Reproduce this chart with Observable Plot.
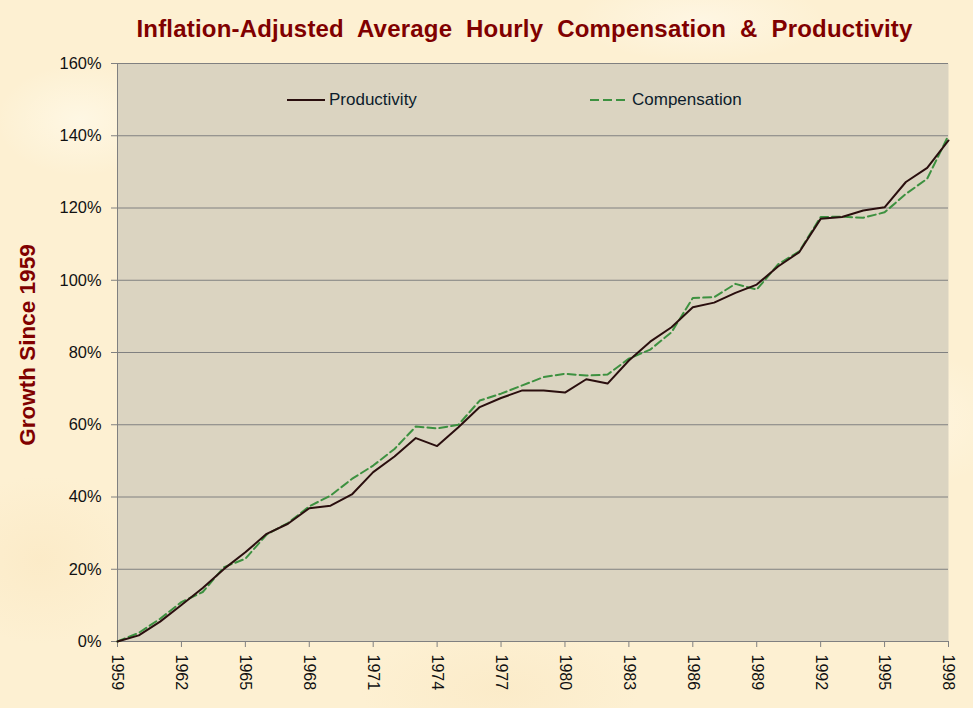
<!DOCTYPE html>
<html>
<head>
<meta charset="utf-8">
<script src="https://cdn.jsdelivr.net/npm/d3@7"></script>
<script src="https://cdn.jsdelivr.net/npm/@observablehq/plot@0.6"></script>
<style>
  html, body { margin: 0; padding: 0; }
  body {
    width: 973px; height: 708px; overflow: hidden;
    background-color: #fdf0d2;
    background-image:
      radial-gradient(ellipse 120px 80px at 80px 120px, rgba(255,250,235,0.7), rgba(255,250,235,0) 70%),
      radial-gradient(ellipse 160px 100px at 900px 420px, rgba(255,248,230,0.7), rgba(255,248,230,0) 70%),
      radial-gradient(ellipse 200px 90px at 500px 690px, rgba(250,232,195,0.6), rgba(250,232,195,0) 70%),
      radial-gradient(ellipse 140px 120px at 40px 560px, rgba(250,230,190,0.5), rgba(250,230,190,0) 70%),
      radial-gradient(ellipse 180px 60px at 700px 20px, rgba(255,250,238,0.6), rgba(255,250,238,0) 70%);
    font-family: "Liberation Sans", Arial, sans-serif;
  }
  #wrap { position: relative; width: 973px; height: 708px; }
  #title {
    position: absolute; left: 0; top: 15px; width: 1049px; text-align: center;
    font: bold 24px "Liberation Sans", Arial, sans-serif; color: #800000;
    letter-spacing: 0.2px; word-spacing: 7px; white-space: nowrap; line-height: 28px;
  }
  #ylabel {
    position: absolute; left: 28px; top: 345px;
    transform: translate(-50%, -50%) rotate(-90deg);
    font: bold 22.5px "Liberation Sans", Arial, sans-serif; color: #800000; white-space: nowrap;
  }
  .leg { position: absolute; top: 90px; height: 20px; display: flex; align-items: center;
    font: 17px "Liberation Sans", Arial, sans-serif; color: #0c1c2c; white-space: nowrap; }
  .leg svg { margin-right: 4px; }
  #chart svg { display: block; }
</style>
</head>
<body>
<div id="wrap">
  <div id="chart"></div>
  <div id="title">Inflation-Adjusted Average Hourly Compensation &amp; Productivity</div>
  <div id="ylabel">Growth Since 1959</div>
  <div class="leg" style="left:287px"><svg width="38" height="10"><line x1="0" y1="5" x2="38" y2="5" stroke="#2a0e0e" stroke-width="2"/></svg><span>Productivity</span></div>
  <div class="leg" style="left:590px"><svg width="38" height="10"><line x1="0" y1="5" x2="38" y2="5" stroke="#3d9140" stroke-width="2" stroke-dasharray="9,4"/></svg><span>Compensation</span></div>
</div>
<script>
const years = [1959,1960,1961,1962,1963,1964,1965,1966,1967,1968,1969,1970,1971,1972,1973,1974,1975,1976,1977,1978,1979,1980,1981,1982,1983,1984,1985,1986,1987,1988,1989,1990,1991,1992,1993,1994,1995,1996,1997,1998];
const productivity = [0,1.7,5.5,10.1,14.8,20.1,24.7,29.8,32.6,36.9,37.6,40.7,46.9,51.2,56.3,54.1,59.3,64.9,67.4,69.5,69.5,68.9,72.6,71.4,77.8,83.0,87.0,92.5,93.8,96.5,98.8,103.8,107.8,117.0,117.5,119.3,120.2,127.2,131.1,138.7];
const compensation = [0,2.4,6.3,10.9,13.7,20.6,22.9,29.6,32.8,37.4,40.4,45.0,48.7,53.3,59.5,59.0,60.0,66.7,68.6,70.9,73.2,74.1,73.6,73.9,78.3,80.8,85.6,95.1,95.3,99.0,97.4,104.4,108.0,117.5,117.6,117.3,118.8,123.9,128.1,140.1];
const xTicks = [1959,1962,1965,1968,1971,1974,1977,1980,1983,1986,1989,1992,1995,1998];
const yTicks = [0,20,40,60,80,100,120,140,160];

const prodData = years.map((yr, i) => ({year: yr, value: productivity[i]}));
const compData = years.map((yr, i) => ({year: yr, value: compensation[i]}));

const chart = Plot.plot({
  width: 973,
  height: 708,
  marginLeft: 117,
  marginRight: 25,
  marginTop: 63,
  marginBottom: 67,
  style: {background: "transparent", fontFamily: "'Liberation Sans', Arial, sans-serif", fontSize: "16px", overflow: "visible"},
  x: {domain: [1959, 1998], label: null},
  y: {domain: [0, 160], label: null},
  marks: [
    Plot.frame({fill: "#dbd4c1", stroke: null}),
    Plot.gridY(yTicks, {stroke: "#808080", strokeOpacity: 1, strokeWidth: 1}),
    Plot.ruleX([1959], {stroke: "#808080", strokeWidth: 1}),
    Plot.axisY(yTicks, {tickFormat: d => d + "%", tickSize: 6, tickPadding: 10, stroke: "#808080", fill: "#111", fontSize: 16.4, label: null}),
    Plot.axisX(xTicks, {tickFormat: d => String(d), tickRotate: 90, tickSize: 6, tickPadding: 7, stroke: "#808080", fill: "#111", fontSize: 16, label: null}),
    Plot.line(compData, {x: "year", y: "value", stroke: "#3d9140", strokeWidth: 2, strokeDasharray: "8,4"}),
    Plot.line(prodData, {x: "year", y: "value", stroke: "#2a0e0e", strokeWidth: 2})
  ]
});
document.getElementById("chart").appendChild(chart);
</script>
</body>
</html>
